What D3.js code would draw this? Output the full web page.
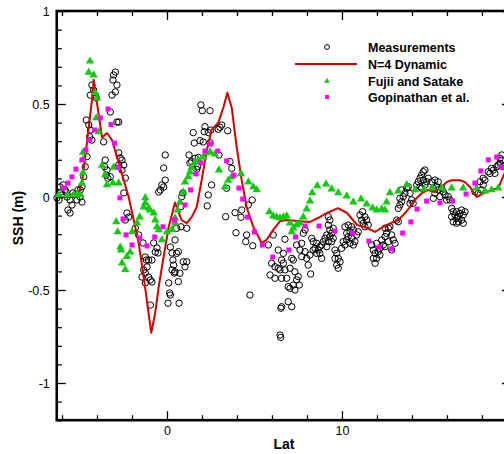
<!DOCTYPE html>
<html>
<head>
<meta charset="utf-8">
<script src="https://cdn.jsdelivr.net/npm/d3@7"></script>
<style>
  body { margin: 0; background: #fff; overflow: hidden; }
  svg { display: block; font-family: "Liberation Sans", Arial, Helvetica, sans-serif; }
</style>
</head>
<body>
<svg id="chart" width="504" height="454"></svg>
<script>
// [lat, ssh] pairs
const measurements = [
  [-6.11,0.054],[-5.94,0.065],[-5.83,0.038],[-6.0,0.011],[-5.71,0],[-5.54,-0.016],[-5.43,-0.043],
  [-5.66,-0.07],[-5.54,-0.086],[-5.37,0.022],[-5.09,0.038],[-4.97,0],[-4.86,-0.027],[-5.14,-0.016],
  [-6.29,-0.005],[-6.17,-0.016],[-5.26,0.011],[-5.77,0.027],[-6.06,0.027],
  [-4.86,0.055],[-4.76,0.109],[-4.67,0.163],[-4.57,0.217],[-4.61,0.414],[-4.47,0.387],[-4.38,0.36],
  [-4.42,0.324],[-4.29,0.306],[-4.29,0.602],[-4.19,0.575],[-4.38,0.548],[-4.1,0.548],[-4.04,0.532],[-4.95,0.038],
  [-3.62,0.297],[-3.53,0.199],[-3.56,0.163],[-3.43,0.145],[-3.47,0.118],[-3.38,0.101],[-3.24,0.109],[-3.24,0.457],
  [-3.05,0.656],[-2.95,0.672],[-3.09,0.629],[-2.86,0.602],[-2.95,0.565],[-3.14,0.548],[-2.86,0.403],[-2.76,0.403],
  [-2.76,0.237],[-2.67,0.21],[-2.57,0.199],[-2.47,0.172],[-2.76,0.172],[-2.57,0.145],[-2.38,0.102],[-2.47,0.022],
  [-2.29,-0.086],[-2.19,-0.108],[-2.38,-0.124],
  [-1.81,-0.167],[-1.62,-0.204],[-1.37,-0.247],[-1.24,-0.323],[-1.18,-0.339],[-1.05,-0.339],[-0.86,-0.339],
  [-1.14,-0.376],[-1.33,-0.392],[-1.24,-0.409],[-1.05,-0.43],[-0.95,-0.446],[-0.86,-0.457],[-1.43,-0.43],
  [-1.24,-0.462],[-0.95,-0.581],[-0.76,-0.247],[-0.57,-0.274],[-0.67,-0.296],[-0.51,-0.301],
  [-0.1,0.226],[-0.19,0.156],[-0.1,0.091],[-0.29,0.065],[-0.38,0.038],[-0.47,0.027],[-0.19,0.054],
  [0.19,-0.269],[0.29,-0.301],[0.34,-0.339],[0.38,-0.366],[0.29,-0.392],[0.42,-0.409],[0.1,-0.462],
  [0.15,-0.516],[0.19,-0.527],[0.06,-0.571],[0.69,-0.571],
  [1.94,0.495],[2.02,0.464],[2.46,0.464],[1.5,0.346],[2.17,0.378],[2.13,0.351],[2.36,0.346],[2.51,0.36],
  [3.03,0.375],[3.13,0.387],[2.93,0.364],[3.47,0.356],[1.56,0.29],[1.89,0.303],[2.07,0.296],[2.46,0.292],
  [1.26,0.226],[1.31,0.183],[1.41,0.19],[1.6,0.208],[1.79,0.213],[1.75,0.163],[1.5,0.145],[1.7,0.149],
  [2.97,0.226],[3.6,0.19],[3.7,0.154],[2.55,0.065],[2.36,0.011],[2.3,-0.048],[0.84,0.002],[0.91,0.022],
  [0.8,-0.052],[3.41,0.047],[0.8,-0.16],[1.13,-0.168],[0.55,-0.168],[3.35,-0.106],[3.89,-0.084],[4.23,-0.109],
  [4.27,-0.07],[4.65,-0.043],[4.87,-0.016],[3.94,-0.192],[4.55,-0.204],[4.5,-0.24],[4.9,-0.262],
  [6.07,-0.204],[5.79,-0.258],[0.46,-0.231],[0.55,-0.303],[0.65,-0.294],[0.93,-0.348],[1.13,-0.348],
  [1.03,-0.375],[0.74,-0.41],[0.65,-0.455],[0.46,-0.402],[4.74,-0.527],[6.51,-0.598],
  [6.36,-0.285],[6.65,-0.303],[5.98,-0.356],[6.17,-0.375],[6.36,-0.383],[5.89,-0.419],[6.17,-0.437],
  [6.55,-0.437],[6.65,-0.356],
  [6.74,-0.227],[6.55,-0.339],[6.46,-0.392],[6.74,-0.392],[6.84,-0.437],[7.13,-0.33],[7.22,-0.339],
  [7.03,-0.383],[7.31,-0.402],[7.5,-0.428],[7.41,-0.446],[7.22,-0.473],[6.93,-0.482],[7.03,-0.491],
  [7.31,-0.5],[7.56,-0.473],[6.93,-0.563],[7.13,-0.59],[6.55,-0.59],[6.46,-0.742],[6.5,-0.755],
  [7.41,-0.258],[7.7,-0.249],[7.89,-0.177],[7.79,-0.195],[7.6,-0.285],[7.89,-0.294],[7.7,-0.321],
  [7.98,-0.33],[8.17,-0.312],[8.07,-0.366],[8.21,-0.414],[8.27,-0.222],[8.36,-0.24],[8.55,-0.249],
  [8.46,-0.276],[8.65,-0.285],[8.74,-0.267],[8.84,-0.258],[8.93,-0.24],[9.03,-0.222],[9.13,-0.204],
  [8.84,-0.33],[8.55,-0.303],[8.36,-0.285],[8.74,-0.303],[9.13,-0.267],[9.22,-0.24],[9.31,-0.213],
  [9.41,-0.195],[9.22,-0.106],[9.31,-0.124],[9.22,-0.151],[9.31,-0.177],[9.5,-0.168],[9.5,-0.222],
  [9.41,-0.24],[9.6,-0.285],[9.7,-0.303],[9.79,-0.33],[9.6,-0.33],[9.89,-0.348],[9.7,-0.366],
  [9.79,-0.383],[9.98,-0.276],[10.17,-0.258],[10.07,-0.24],[10.17,-0.16],[10.36,-0.151],[10.55,-0.16],
  [10.65,-0.177],[10.46,-0.187],[10.27,-0.195],[10.36,-0.213],[10.55,-0.222],[10.74,-0.24],[10.65,-0.258],
  [10.46,-0.249],[10.27,-0.231],[10.84,-0.204],[10.93,-0.187],[11.03,-0.097],[11.18,-0.079],[11.31,-0.106],
  [11.41,-0.124],[11.22,-0.141],[11.5,-0.151],[11.13,-0.124],[11.31,-0.16],[11.7,-0.258],[11.79,-0.285],
  [11.89,-0.303],[11.98,-0.33],[11.79,-0.33],[12.07,-0.294],[12.17,-0.276],[12.36,-0.258],[12.27,-0.231],
  [12.46,-0.213],[12.55,-0.195],[12.65,-0.168],[11.98,-0.249],[12.17,-0.312],[11.89,-0.356],
  [12.46,-0.168],[12.74,-0.16],[12.84,-0.204],[12.93,-0.231],[13.03,-0.249],[12.65,-0.24],[12.84,-0.285],
  [12.46,-0.267],[13.13,-0.124],[13.22,-0.133],[13.22,-0.061],[13.31,-0.043],[13.41,-0.025],[13.31,-0.007],
  [13.5,0.002],[13.6,0.02],[13.41,0.038],[13.7,0.047],[13.79,0.055],[13.89,0.02],[13.98,-0.016],
  [14.07,-0.034],[13.89,-0.034],[14.27,0.065],[14.36,0.082],[14.46,0.101],[14.55,0.118],[14.65,0.136],
  [14.74,0.145],[14.46,0.055],[14.55,0.047],[14.74,0.065],[14.84,0.082],[14.93,0.101],[14.65,0.091],
  [15.13,0.082],[15.31,0.091],[15.5,0.082],[15.41,0.055],[15.22,0.047],[15.5,0.038],[15.31,0.02],
  [15.22,-0.007],[15.6,0.002],[15.7,0.047],[15.79,0.028],[15.89,0.011],[16.07,0.002],[16.17,-0.016],
  [15.98,-0.016],[16.27,-0.061],[16.36,-0.079],[16.46,-0.097],[16.27,-0.106],[16.55,-0.115],[16.36,-0.133],
  [16.65,-0.133],[16.84,-0.124],[16.93,-0.097],[17.03,-0.079],[16.84,-0.07],[16.74,-0.088],[16.55,-0.079],
  [16.65,-0.106],[16.93,-0.141],[16.55,-0.141],[17.6,0.028],[17.79,0.02],[17.98,0.038],[18.07,0.065],
  [17.89,0.082],[18.17,0.091],[18.07,0.101],[18.36,0.136],[18.55,0.154],[18.46,0.127],[18.74,0.127],
  [18.65,0.145],[18.84,0.163],[18.93,0.172],[19.03,0.181],[19.13,0.199],[19.22,0.163],[19.03,0.208],[19.13,0.226]
];

const dynamicN4 = [
  [-6.0,0.0],[-5.14,0.0],[-4.86,0.075],[-4.67,0.215],[-4.47,0.376],[-4.29,0.52],[-4.19,0.63],[-4.0,0.505],
  [-3.71,0.32],[-3.43,0.344],[-3.14,0.306],[-2.86,0.215],[-2.47,0.09],[-2.19,0.0],[-1.9,-0.124],
  [-1.62,-0.247],[-1.33,-0.43],[-0.9,-0.73],[-0.67,-0.62],[-0.47,-0.48],[-0.19,-0.32],[0.1,-0.16],
  [0.46,-0.03],[0.84,-0.124],[1.13,-0.14],[1.41,-0.108],[1.7,-0.054],[1.98,0.09],[2.27,0.25],[2.55,0.36],
  [2.93,0.4],[3.22,0.48],[3.45,0.56],[3.7,0.48],[3.98,0.27],[4.27,0.09],[4.55,-0.054],[4.93,-0.16],
  [5.41,-0.247],[5.7,-0.23],[6.07,-0.177],[6.46,-0.13],[6.86,-0.124],[7.6,-0.13],[8.17,-0.134],
  [8.63,-0.113],[9.14,-0.086],[9.77,-0.06],[10.29,-0.086],[10.86,-0.15],[11.43,-0.167],[11.89,-0.188],
  [12.34,-0.16],[12.8,-0.14],[13.22,-0.124],[13.5,-0.097],[13.89,-0.054],[14.27,-0.005],[14.55,0.02],
  [14.93,0.038],[15.31,0.027],[15.7,0.054],[15.98,0.08],[16.27,0.09],[16.74,0.09],[17.03,0.08],
  [17.31,0.054],[17.7,0.0],[17.98,0.016],[18.27,0.027],[18.55,0.038],[18.93,0.048],[19.3,0.13]
];

const fujiiSatake = [
  [-6.19,0.011],[-5.71,0.011],[-5.33,0.011],[-5.14,0.016],[-4.95,0.011],[-4.86,0.075],[-4.8,0.13],
  [-4.8,0.2],[-4.8,0.24],[-4.47,0.67],[-4.4,0.73],[-4.19,0.656],[-4.1,0.56],[-4.0,0.53],[-4.04,0.425],
  [-3.9,0.35],[-3.71,0.17],[-3.53,0.118],[-3.43,0.065],[-3.05,0.16],[-3.09,0.075],[-2.76,0.075],
  [-2.9,-0.134],[-2.82,-0.188],[-2.67,-0.27],[-2.63,-0.285],[-2.57,-0.355],[-2.38,-0.39],[-2.29,-0.32],
  [-2.1,-0.296],[-2.0,-0.188],[-1.71,-0.14],[-1.56,-0.108],[-1.33,-0.054],[-1.24,-0.032],[-1.24,-0.005],
  [-1.05,-0.06],[-0.97,-0.07],[-0.76,-0.086],[-0.67,-0.124],[-0.57,-0.16],[-0.47,-0.177],[-0.29,-0.23],
  [0.0,-0.188],[0.29,-0.177],[0.47,-0.14],[0.46,-0.113],[0.61,-0.07],[0.74,-0.027],[0.93,0.027],
  [1.03,0.08],[1.22,0.108],[1.31,0.134],[1.41,0.16],[1.6,0.188],[1.79,0.2],[2.07,0.215],[2.27,0.237],
  [2.46,0.242],[2.74,0.23],[2.97,0.145],[3.31,0.054],[3.5,0.09],[3.7,0.108],[4.23,0.124],[4.65,0.08],
  [4.93,0.054],[5.13,0.038],[5.85,-0.08],[6.07,-0.102],[6.27,-0.108],[6.46,-0.113],[6.65,-0.108],
  [6.84,-0.102],[7.03,-0.14],[7.13,-0.188],[7.22,-0.167],[7.41,-0.15],[7.6,-0.14],[7.79,-0.108],
  [7.98,-0.065],[8.17,-0.022],[8.3,0.022],[8.59,0.06],[9.09,0.07],[9.41,0.043],[9.79,0.022],
  [10.27,0.005],[10.65,-0.027],[11.09,-0.011],[11.41,-0.038],[11.75,-0.06],[11.98,-0.07],[12.27,-0.065],
  [12.46,-0.07],[12.55,-0.027],[12.74,0.022],[13.22,0.032],[13.7,0.065],[14.17,0.038],[14.7,0.043],
  [15.18,0.048],[15.7,0.048],[16.27,0.048],[16.93,0.048],[17.7,0.048],[18.17,0.032],[18.55,0.038],[18.93,0.048]
];

const gopinathan = [
  [-5.9,0.048],[-5.66,0.075],[-5.43,0.108],[-5.2,0.15],[-4.86,0.2],[-4.63,0.253],[-4.42,0.306],
  [-4.13,0.36],[-3.81,0.425],[-3.37,0.473],[-3.2,0.39],[-2.99,0.29],[-2.8,0.16],[-2.69,-0.005],
  [-2.51,-0.118],[-2.34,-0.204],[-2.0,-0.258],[-1.56,-0.22],[-1.14,-0.263],[-0.7,-0.215],[-0.23,-0.16],
  [0.42,-0.124],[1.03,-0.043],[1.35,0.038],[1.66,0.124],[1.93,0.183],[2.17,0.247],[2.5,0.285],
  [2.9,0.247],[3.41,0.194],[3.83,0.118],[4.11,0.048],[4.33,-0.011],[4.61,-0.108],[4.99,-0.188],
  [5.45,-0.258],[6.04,-0.323],[6.97,-0.285],[7.35,-0.215],[7.89,-0.156],[8.69,-0.156],[9.6,-0.183],
  [10.61,-0.194],[11.54,-0.237],[12.13,-0.269],[12.84,-0.28],[13.47,-0.194],[13.94,-0.134],
  [14.29,-0.065],[14.84,-0.022],[15.6,-0.032],[16.33,-0.022],[17.09,0.016],[17.6,0.075],[17.94,0.14],
  [18.36,0.2],[18.84,0.215],[19.13,0.16]
];

const xMajor = [0, 10];
const xMinor = [-6, -4, -2, 2, 4, 6, 8, 12, 14, 16, 18];
const yMajor = [-1, -0.5, 0, 0.5, 1];
const legendLabels = ["Measurements", "N=4 Dynamic", "Fujii and Satake", "Gopinathan et al."];

const svg = d3.select("#chart");
// the right frame sits just past the window edge, as in the original crop
const plotLeft = 56.75, plotRight = 511, plotTop = 11, plotBottom = 420.2;

const x = d3.scaleLinear().domain([-6.3, 19.66]).range([plotLeft, plotRight]);
const y = d3.scaleLinear().domain([-1.2, 1]).range([plotBottom, plotTop]);
const yMinor = d3.range(-12, 11).map(d => d / 10).filter(v => !yMajor.some(m => Math.abs(m - v) < 1e-9));

const fmt = d => String(d);

// axes: ticks point inward on all four sides
function axisGroup(axis, tx, ty) {
  const g = svg.append("g").attr("transform", `translate(${tx},${ty})`).call(axis);
  g.select(".domain").remove();
  g.selectAll("line").attr("stroke", "#000").attr("stroke-width", 1.3);
  g.selectAll("text").attr("fill", "#000").style("font-size", "12.5px").attr("font-family", null);
  return g;
}
axisGroup(d3.axisBottom(x).tickValues(xMajor).tickFormat(fmt).tickSize(-9).tickPadding(6), 0, plotBottom);
axisGroup(d3.axisBottom(x).tickValues(xMinor).tickFormat("").tickSize(-5), 0, plotBottom);
axisGroup(d3.axisTop(x).tickValues(xMajor).tickFormat("").tickSize(-9), 0, plotTop);
axisGroup(d3.axisTop(x).tickValues(xMinor).tickFormat("").tickSize(-5), 0, plotTop);
axisGroup(d3.axisLeft(y).tickValues(yMajor).tickFormat(fmt).tickSize(-9).tickPadding(7), plotLeft, 0);
axisGroup(d3.axisLeft(y).tickValues(yMinor).tickFormat("").tickSize(-5), plotLeft, 0);
axisGroup(d3.axisRight(y).tickValues(yMajor).tickFormat("").tickSize(-9), plotRight, 0);
axisGroup(d3.axisRight(y).tickValues(yMinor).tickFormat("").tickSize(-5), plotRight, 0);

svg.append("rect")
  .attr("x", plotLeft).attr("y", plotTop)
  .attr("width", plotRight - plotLeft).attr("height", plotBottom - plotTop)
  .attr("fill", "none").attr("stroke", "#000").attr("stroke-width", 2.6);

const plot = svg.append("g");

plot.selectAll("circle.meas")
  .data(measurements)
  .enter()
  .append("circle")
  .attr("class", "meas")
  .attr("cx", d => x(d[0]))
  .attr("cy", d => y(d[1]))
  .attr("r", 3.2)
  .attr("fill", "none")
  .attr("stroke", "#000")
  .attr("stroke-width", 1);

plot.append("path")
  .datum(dynamicN4)
  .attr("fill", "none")
  .attr("stroke", "#d00000")
  .attr("stroke-width", 2)
  .attr("stroke-linejoin", "round")
  .attr("d", d3.line().x(d => x(d[0])).y(d => y(d[1])));

const tri = d3.symbol().type(d3.symbolTriangle).size(30);
plot.selectAll("path.fs")
  .data(fujiiSatake)
  .enter()
  .append("path")
  .attr("class", "fs")
  .attr("d", tri)
  .attr("transform", d => `translate(${x(d[0])},${y(d[1])})`)
  .attr("fill", "#14c814");

plot.selectAll("rect.gop")
  .data(gopinathan)
  .enter()
  .append("rect")
  .attr("class", "gop")
  .attr("x", d => x(d[0]) - 2.5)
  .attr("y", d => y(d[1]) - 2.5)
  .attr("width", 5)
  .attr("height", 5)
  .attr("fill", "#ff00ff");

// legend
const legend = svg.append("g");
const ly = [47, 64, 81, 97];
legend.selectAll("text")
  .data(legendLabels)
  .enter()
  .append("text")
  .attr("x", 368)
  .attr("y", (d, i) => ly[i] + 4.5)
  .style("font-size", "12.5px")
  .style("font-weight", "bold")
  .text(d => d);

legend.append("circle").attr("cx", 327).attr("cy", ly[0]).attr("r", 2.4)
  .attr("fill", "none").attr("stroke", "#000").attr("stroke-width", 1);
legend.append("line").attr("x1", 295).attr("x2", 357).attr("y1", ly[1]).attr("y2", ly[1])
  .attr("stroke", "#d00000").attr("stroke-width", 2);
legend.append("path").attr("d", d3.symbol().type(d3.symbolTriangle).size(14))
  .attr("transform", `translate(327,${ly[2]})`).attr("fill", "#14c814");
legend.append("rect").attr("x", 325).attr("y", ly[3] - 2).attr("width", 4).attr("height", 4)
  .attr("fill", "#ff00ff");

// axis titles
svg.append("text")
  .attr("x", 284).attr("y", 449)
  .attr("text-anchor", "middle")
  .style("font-size", "14px").style("font-weight", "bold")
  .text("Lat");

svg.append("text")
  .attr("transform", "translate(23,218) rotate(-90)")
  .attr("text-anchor", "middle")
  .style("font-size", "14px").style("font-weight", "bold")
  .text("SSH (m)");
</script>
</body>
</html>
